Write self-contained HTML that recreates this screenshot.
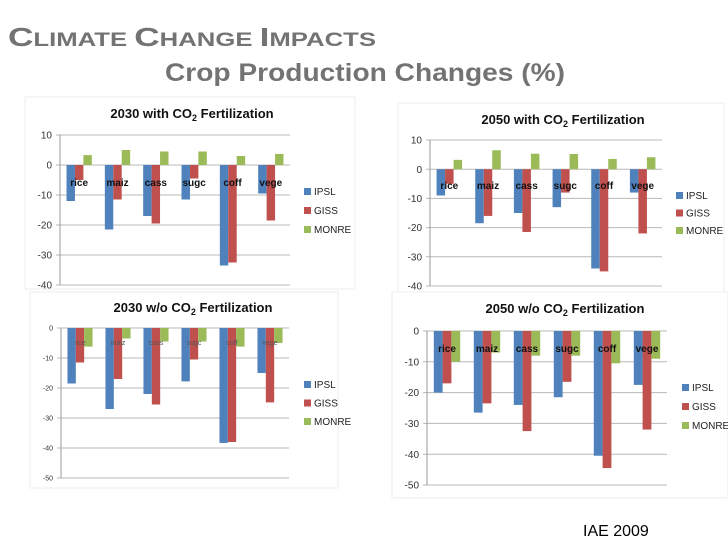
<!DOCTYPE html>
<html><head><meta charset="utf-8"><style>
html,body{margin:0;padding:0;background:#fff;}
svg{display:block;font-family:"Liberation Sans",Arial,sans-serif;}
</style></head><body>
<svg id="s" width="728" height="546" viewBox="0 0 728 546">
<text x="8" y="46" fill="#737373" font-weight="bold" textLength="368" lengthAdjust="spacingAndGlyphs"><tspan font-size="26">C</tspan><tspan font-size="19">LIMATE </tspan><tspan font-size="26">C</tspan><tspan font-size="19">HANGE </tspan><tspan font-size="26">I</tspan><tspan font-size="19">MPACTS</tspan></text>
<text x="165" y="81" fill="#737373" font-weight="bold" font-size="25" textLength="400" lengthAdjust="spacingAndGlyphs">Crop Production Changes (%)</text>
<text x="583" y="536" fill="#000" font-size="16">IAE 2009</text>
</svg>
<script>
const categories = ["rice","maiz","cass","sugc","coff","vege"];
const seriesNames = ["IPSL","GISS","MONRE"];
const c1IPSL = [-12,-21.5,-17,-11.5,-33.5,-9.5];
const c1GISS = [-5,-11.5,-19.5,-4.5,-32.5,-18.5];
const c1MONRE = [3.3,5,4.5,4.5,3,3.7];
const c2IPSL = [-9,-18.5,-15,-13,-34,-8];
const c2GISS = [-5,-16,-21.5,-8,-35,-22];
const c2MONRE = [3.2,6.5,5.3,5.2,3.5,4.1];
const c3IPSL = [-18.5,-27,-22,-17.8,-38.3,-15];
const c3GISS = [-11.5,-17,-25.5,-10.5,-38,-24.8];
const c3MONRE = [-6.2,-3.5,-4.5,-4.5,-6.2,-5];
const c4IPSL = [-20,-26.5,-24,-21.5,-40.5,-17.5];
const c4GISS = [-17,-23.5,-32.5,-16.5,-44.5,-32];
const c4MONRE = [-10,-7,-8,-8,-10.5,-9];
const ticksA = [10,0,-10,-20,-30,-40];
const ticksB = [0,-10,-20,-30,-40,-50];
const colors = ["#4F81BD","#C0504D","#9BBB59"];
const NS="http://www.w3.org/2000/svg";
const svg=document.getElementById('s');
function mk(tag,attrs,parent){const e=document.createElementNS(NS,tag);for(const k in attrs)e.setAttribute(k,attrs[k]);(parent||svg).appendChild(e);return e;}
function chart(o){
  const g=mk('g',{});
  
  
  const p=mk('rect',{x:o.px,y:o.py,width:o.pw,height:o.ph,fill:'#fff',stroke:'#ececec'},g);
  
  
  const vmax=o.ticks[0], vmin=o.ticks[o.ticks.length-1];
  const y=v=>o.top+(vmax-v)/(vmax-vmin)*(o.bot-o.top);
  const gw=(o.right-o.left)/categories.length;
  const bw=gw*0.22;
  const x=(i,s)=>o.left+gw*i+gw/2+(s-1.5)*bw;
  o.ticks.forEach(t=>{
    const l=mk('line',{x1:o.left-4,x2:o.right,y1:y(t),y2:y(t),stroke:'#b8b8b8','stroke-width':1},g);
    
    
    const tx=mk('text',{x:o.left-8,y:y(t)+o.tfs*0.36,'text-anchor':'end','font-size':o.tfs,fill:'#333'},g);
    tx.textContent=t;
    
    
  });
  const ax=mk('line',{x1:o.left,x2:o.left,y1:o.top,y2:o.bot,stroke:'#999'},g);
  
  
  o.series.forEach((arr,s)=>{
    arr.forEach((v,i)=>{
      const y0=y(0), y1=y(v);
      const r=mk('rect',{x:x(i,s),y:Math.min(y0,y1),width:bw,height:Math.abs(y1-y0),fill:colors[s]},g);
      
      
    });
  });
  categories.forEach((c,i)=>{
    const t=mk('text',{x:o.left+gw*i+gw/2,y:y(0)+o.lblOff,'text-anchor':'middle','font-size':o.lfs,'font-weight':o.lbold?'bold':'normal',fill:o.lbold?'#111':'#555'},g);
    t.textContent=c;
    
    
  });
  const ti=mk('text',{x:o.tx,y:o.ty,'text-anchor':'middle','font-size':13,'font-weight':'bold',fill:'#111'},g);
  
  
  const a=mk('tspan',{},ti);a.textContent=o.title1;
  const b=mk('tspan',{'font-size':9,dy:3},ti);b.textContent='2';
  const c=mk('tspan',{dy:-3},ti);c.textContent=' Fertilization';
  seriesNames.forEach((n,s)=>{
    const ly=o.ly+s*o.lgap;
    const sq=mk('rect',{x:o.lx,y:ly-7,width:7,height:7,fill:colors[s]},g);
    
    
    const lt=mk('text',{x:o.lx+10,y:ly,'font-size':10,fill:'#222'},g);
    lt.textContent=n;
    
    
  });
}
chart({name:'chart-2030-with-co2',px:25,py:97,pw:330,ph:192,left:60,right:290,top:135,bot:285,ticks:ticksA,series:[c1IPSL,c1GISS,c1MONRE],tfs:10,lfs:10,lbold:true,lblOff:21,tx:192,ty:118,title1:'2030 with CO',lx:304,ly:195,lgap:19});
chart({name:'chart-2050-with-co2',px:398,py:103,pw:326,ph:189,left:430,right:662,top:140,bot:286,ticks:ticksA,series:[c2IPSL,c2GISS,c2MONRE],tfs:10,lfs:10,lbold:true,lblOff:20,tx:563,ty:124,title1:'2050 with CO',lx:676,ly:199,lgap:17.5});
chart({name:'chart-2030-without-co2',px:30,py:292,pw:308,ph:196,left:61,right:289,top:328,bot:478,ticks:ticksB,series:[c3IPSL,c3GISS,c3MONRE],tfs:7,lfs:7,lbold:false,lblOff:17,tx:193,ty:312,title1:'2030 w/o CO',lx:304,ly:388,lgap:18.5});
chart({name:'chart-2050-without-co2',px:392,py:292,pw:336,ph:206,left:427,right:667,top:331,bot:485,ticks:ticksB,series:[c4IPSL,c4GISS,c4MONRE],tfs:10,lfs:10,lbold:true,lblOff:21,tx:565,ty:313,title1:'2050 w/o CO',lx:682,ly:391,lgap:19});
</script>
</body></html>
